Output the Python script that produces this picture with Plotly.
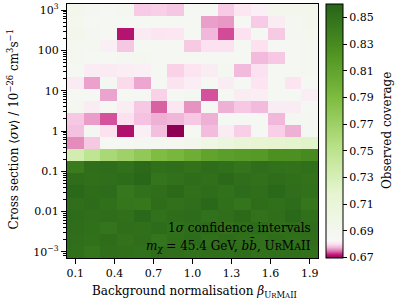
import plotly.graph_objects as go

# ---------------- data ----------------
beta_values = [0.1, 0.2286, 0.3571, 0.4857, 0.6143, 0.7429, 0.8714, 1.0,
               1.1286, 1.2571, 1.3857, 1.5143, 1.6429, 1.7714, 1.9]
# log10 of cross section (units 1e-26 cm^3 s^-1), top row first
log_sigma_v = [3.0, 2.7, 2.4, 2.1, 1.8, 1.5, 1.2, 0.9, 0.6, 0.3, 0.0,
               -0.3, -0.6, -0.9, -1.2, -1.5, -1.8, -2.1, -2.4, -2.7, -3.0]

# observed coverage, rows from top (1e3) to bottom (1e-3)
coverage_high = [
    [0.693, 0.688, 0.687, 0.690, 0.6788, 0.6790, 0.6785, 0.686, 0.686, 0.6788, 0.6808, 0.6818, 0.692, 0.693, 0.694],
    [0.691, 0.687, 0.687, 0.686, 0.686, 0.6865, 0.686, 0.687, 0.6765, 0.6762, 0.687, 0.6788, 0.6815, 0.688, 0.692],
    [0.694, 0.688, 0.687, 0.6714, 0.6812, 0.6806, 0.6808, 0.686, 0.6776, 0.6736, 0.6803, 0.686, 0.6787, 0.688, 0.691],
    [0.690, 0.689, 0.6818, 0.6785, 0.686, 0.686, 0.687, 0.6787, 0.6803, 0.6803, 0.686, 0.6802, 0.686, 0.687, 0.690],
    [0.690, 0.687, 0.687, 0.688, 0.689, 0.687, 0.686, 0.686, 0.686, 0.686, 0.686, 0.6777, 0.6786, 0.686, 0.690],
    [0.686, 0.6814, 0.6812, 0.6816, 0.6818, 0.686, 0.6792, 0.6807, 0.6815, 0.689, 0.6777, 0.6803, 0.686, 0.687, 0.689],
    [0.6812, 0.6766, 0.688, 0.6797, 0.6768, 0.687, 0.6804, 0.6816, 0.686, 0.6814, 0.686, 0.6805, 0.686, 0.6806, 0.687],
    [0.686, 0.686, 0.6767, 0.686, 0.686, 0.6792, 0.687, 0.688, 0.6738, 0.687, 0.6815, 0.6816, 0.686, 0.687, 0.6817],
    [0.689, 0.6814, 0.687, 0.6815, 0.6786, 0.6742, 0.6808, 0.6760, 0.687, 0.6772, 0.6786, 0.6777, 0.6814, 0.6815, 0.687],
    [0.6786, 0.6764, 0.6738, 0.6802, 0.6783, 0.6772, 0.6775, 0.6786, 0.6772, 0.687, 0.687, 0.687, 0.6776, 0.688, 0.688],
    [0.6782, 0.688, 0.6802, 0.6712, 0.6818, 0.6780, 0.6696, 0.687, 0.6778, 0.6815, 0.6790, 0.687, 0.6790, 0.6772, 0.688],
]
coverage_transition = [
    [0.6757, 0.6786, 0.686, 0.687, 0.688, 0.689, 0.690, 0.692, 0.700, 0.705, 0.712, 0.715, 0.718, 0.720, 0.722],
    [0.733, 0.748, 0.762, 0.769, 0.778, 0.789, 0.794, 0.801, 0.810, 0.814, 0.817, 0.819, 0.826, 0.826, 0.830],
]
coverage_low = [
    [0.842, 0.852, 0.853, 0.850, 0.855, 0.851, 0.852, 0.849, 0.853, 0.851, 0.848, 0.852, 0.850, 0.849, 0.851],
    [0.853, 0.851, 0.852, 0.854, 0.858, 0.848, 0.850, 0.853, 0.851, 0.855, 0.852, 0.850, 0.853, 0.851, 0.849],
    [0.856, 0.853, 0.854, 0.846, 0.850, 0.852, 0.855, 0.851, 0.853, 0.850, 0.854, 0.852, 0.857, 0.852, 0.850],
    [0.852, 0.854, 0.851, 0.847, 0.845, 0.853, 0.850, 0.852, 0.856, 0.851, 0.848, 0.853, 0.851, 0.854, 0.847],
    [0.854, 0.852, 0.853, 0.851, 0.856, 0.850, 0.853, 0.854, 0.850, 0.852, 0.855, 0.849, 0.852, 0.856, 0.851],
    [0.853, 0.851, 0.848, 0.852, 0.851, 0.854, 0.850, 0.852, 0.853, 0.849, 0.852, 0.854, 0.850, 0.852, 0.853],
    [0.852, 0.850, 0.853, 0.849, 0.852, 0.848, 0.851, 0.854, 0.850, 0.853, 0.851, 0.850, 0.853, 0.851, 0.852],
    [0.851, 0.847, 0.852, 0.851, 0.850, 0.853, 0.852, 0.850, 0.852, 0.851, 0.853, 0.850, 0.851, 0.852, 0.850],
]

x_ticks = [0.1, 0.4, 0.7, 1.0, 1.3, 1.6, 1.9]
x_ticktext = ["0.1", "0.4", "0.7", "1.0", "1.3", "1.6", "1.9"]
y_ticks = [1e-3, 1e-2, 1e-1, 1, 10, 100, 1e3]
y_ticktext = ["10<sup>−3</sup>", "0.01", "0.1", "1", "10", "100", "10<sup>3</sup>"]
cb_ticks = [0.67, 0.69, 0.71, 0.73, 0.75, 0.77, 0.79, 0.81, 0.83, 0.85]
cb_ticktext = ["0.67", "0.69", "0.71", "0.73", "0.75", "0.77", "0.79", "0.81", "0.83", "0.85"]

z_min, z_max, z_center = 0.6696, 0.86, 0.6827

# ---------------- build ----------------
FONT = "DejaVu Serif"
rows_top_down = coverage_high + coverage_transition + coverage_low
z = rows_top_down[::-1]
logs_up = log_sigma_v[::-1]
step = logs_up[1] - logs_up[0]
y_edges = [10 ** (v - step / 2) for v in logs_up] + [10 ** (logs_up[-1] + step / 2)]

piyg = ["#8e0152", "#c51b7d", "#de77ae", "#f1b6da", "#fde0ef", "#f7f7f7",
        "#e6f5d0", "#b8e186", "#7fbc41", "#4d9221", "#276419"]
pc = (z_center - z_min) / (z_max - z_min)
colorscale = [[pc * i / 5, piyg[i]] for i in range(6)] + \
             [[pc + (1 - pc) * j / 5, piyg[5 + j]] for j in range(1, 6)]

W, H = 398, 305
ml, mr, mt, mb = 67, 80, 4, 47
pw, ph = W - ml - mr, H - mt - mb

def px_x(px):
    return (px - ml) / pw

def px_y(py):
    return (H - mb - py) / ph

cb_x = px_x(326)
cb_th = 17

fig = go.Figure()
fig.add_trace(go.Heatmap(
    x=beta_values, y=y_edges, z=z,
    zmin=z_min, zmax=z_max, colorscale=colorscale,
    colorbar=dict(
        thickness=cb_th, thicknessmode="pixels", len=1, lenmode="fraction",
        x=cb_x, xanchor="left", xpad=0, y=0.5, yanchor="middle", ypad=0,
        outlinewidth=1, outlinecolor="black",
        tickvals=cb_ticks, ticktext=cb_ticktext, ticks="outside", ticklen=4,
        tickwidth=1, tickcolor="black",
        tickfont=dict(family=FONT, size=11, color="black"),
    ),
    hoverinfo="skip",
))

minor_vals = [k * 10 ** d for d in range(-4, 4) for k in range(2, 10)]
half = (beta_values[1] - beta_values[0]) / 2

fig.update_layout(
    width=W, height=H,
    margin=dict(l=ml, r=mr, t=mt, b=mb, autoexpand=False),
    paper_bgcolor="white", plot_bgcolor="white",
    font=dict(family=FONT, size=12, color="black"),
    xaxis=dict(
        range=[beta_values[0] - half, beta_values[-1] + half], automargin=False,
        tickvals=x_ticks, ticktext=x_ticktext, ticks="outside", ticklen=5,
        tickwidth=1, tickcolor="black", showline=True, linecolor="black",
        linewidth=1.2, mirror=True, showgrid=False, zeroline=False,
        tickfont=dict(family=FONT, size=11),
    ),
    yaxis=dict(
        type="log", range=[logs_up[0] - step / 2, logs_up[-1] + step / 2],
        automargin=False,
        tickvals=y_ticks, ticktext=y_ticktext, ticks="outside", ticklen=5,
        tickwidth=1, tickcolor="black", showline=True, linecolor="black",
        linewidth=1.2, mirror=True, showgrid=False, zeroline=False,
        tickfont=dict(family=FONT, size=11),
        minor=dict(tickvals=minor_vals, ticks="outside", ticklen=2.5,
                   tickwidth=0.8, tickcolor="black", showgrid=False),
    ),
    shapes=[dict(type="line", xref="paper", yref="paper",
                 x0=cb_x, x1=cb_x + cb_th / pw, y0=pc, y1=pc,
                 line=dict(color="black", width=1, dash="dot"))],
    annotations=[
        dict(text="Cross section ⟨<i>σv</i>⟩ / 10<sup>−26</sup> cm<sup>3</sup>s<sup>−1</sup>",
             textangle=-90, xref="paper", yref="paper", x=px_x(12.5), y=px_y(130),
             xanchor="center", yanchor="middle", showarrow=False, font=dict(size=12)),
        dict(text="Background normalisation <i>β</i><sub>U<span style='font-size:7px'>R</span>M<span style='font-size:7px'>A</span>II</sub>",
             xref="paper", yref="paper", x=px_x(194), y=px_y(292),
             xanchor="center", yanchor="middle", showarrow=False, font=dict(size=12)),
        dict(text="Observed coverage", textangle=-90, xref="paper", yref="paper",
             x=px_x(387), y=px_y(131), xanchor="center", yanchor="middle",
             showarrow=False, font=dict(size=12)),
        dict(text="1<i>σ</i> confidence intervals", xref="paper", yref="paper",
             x=px_x(313), y=px_y(228), xanchor="right", yanchor="middle",
             showarrow=False, font=dict(size=12)),
        dict(text="<i>m</i><sub><i>χ</i></sub> = 45.4 GeV, <i>b</i><i>b̄</i>, U<span style='font-size:9.5px'>R</span>M<span style='font-size:9.5px'>A</span>II",
             xref="paper", yref="paper", x=px_x(313), y=px_y(245), xanchor="right",
             yanchor="middle", showarrow=False, font=dict(size=12)),
    ],
)

fig.write_html("out.html", config={"displayModeBar": False},
               post_script="document.body.style.margin='0px';document.body.style.padding='0px';")
